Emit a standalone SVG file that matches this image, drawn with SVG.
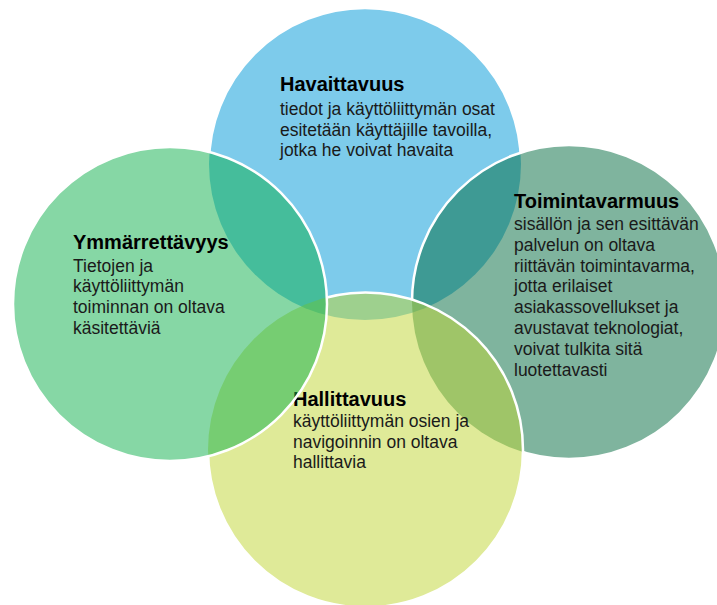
<svg xmlns="http://www.w3.org/2000/svg" width="717" height="605" viewBox="0 0 717 605">
<style>
.t{font-family:"Liberation Sans",Arial,sans-serif;font-weight:bold;font-size:20px;fill:#000}
.b{font-family:"Liberation Sans",Arial,sans-serif;font-size:17.5px;fill:#1a1a1a}
.edge{fill:none;stroke:#fff;stroke-width:2.5}
</style>
<defs>
<mask id="m-top" maskUnits="userSpaceOnUse" x="0" y="0" width="717" height="605">
<rect x="0" y="0" width="717" height="605" fill="#fff"/>
<circle cx="569" cy="302" r="157" fill="#000"/>
<circle cx="365.5" cy="450" r="157.5" fill="#000"/>
<circle cx="170" cy="304" r="157" fill="#000"/>
</mask>
<mask id="m-right" maskUnits="userSpaceOnUse" x="0" y="0" width="717" height="605">
<rect x="0" y="0" width="717" height="605" fill="#fff"/>
<circle cx="365.5" cy="450" r="157.5" fill="#000"/>
<circle cx="170" cy="304" r="157" fill="#000"/>
</mask>
<mask id="m-bottom" maskUnits="userSpaceOnUse" x="0" y="0" width="717" height="605">
<rect x="0" y="0" width="717" height="605" fill="#fff"/>
<circle cx="170" cy="304" r="157" fill="#000"/>
</mask>
</defs>
<rect x="0" y="0" width="717" height="605" fill="#fff"/>
<g id="havaittavuus">
<circle cx="365" cy="164" r="156" fill="#7dcbeb"/>
<circle cx="365" cy="164" r="156" class="edge" mask="url(#m-top)"/>
<text class="t" x="280" y="91">Havaittavuus</text>
<text class="b" x="280" y="115">tiedot ja käyttöliittymän osat</text>
<text class="b" x="280" y="135.5">esitetään käyttäjille tavoilla,</text>
<text class="b" x="280" y="156">jotka he voivat havaita</text>
</g>
<g id="toimintavarmuus">
<circle cx="569" cy="302" r="157" fill="#00693d" fill-opacity="0.5"/>
<circle cx="569" cy="302" r="157" class="edge" mask="url(#m-right)"/>
<text class="t" x="514" y="207.7">Toimintavarmuus</text>
<text class="b" x="514" y="230">sisällön ja sen esittävän</text>
<text class="b" x="514" y="250.8">palvelun on oltava</text>
<text class="b" x="514" y="271.6">riittävän toimintavarma,</text>
<text class="b" x="514" y="292.4">jotta erilaiset</text>
<text class="b" x="514" y="313.2">asiakassovellukset ja</text>
<text class="b" x="514" y="334">avustavat teknologiat,</text>
<text class="b" x="514" y="354.8">voivat tulkita sitä</text>
<text class="b" x="514" y="375.6">luotettavasti</text>
</g>
<g id="hallittavuus">
<circle cx="365.5" cy="450" r="157.5" fill="#bfd531" fill-opacity="0.5"/>
<circle cx="365.5" cy="450" r="157.5" class="edge" mask="url(#m-bottom)"/>
<text class="t" x="293" y="406">Hallittavuus</text>
<text class="b" x="293" y="426.7">käyttöliittymän osien ja</text>
<text class="b" x="293" y="447.5">navigoinnin on oltava</text>
<text class="b" x="293" y="468.3">hallittavia</text>
</g>
<g id="ymmarrettavyys">
<circle cx="170" cy="304" r="157" fill="#0daf4b" fill-opacity="0.5"/>
<circle cx="170" cy="304" r="157" class="edge"/>
<text class="t" x="73" y="249">Ymmärrettävyys</text>
<text class="b" x="73" y="271.5">Tietojen ja</text>
<text class="b" x="73" y="292.3">käyttöliittymän</text>
<text class="b" x="73" y="313.1">toiminnan on oltava</text>
<text class="b" x="73" y="333.9">käsitettäviä</text>
</g>
<g id="connectors"/>
</svg>
